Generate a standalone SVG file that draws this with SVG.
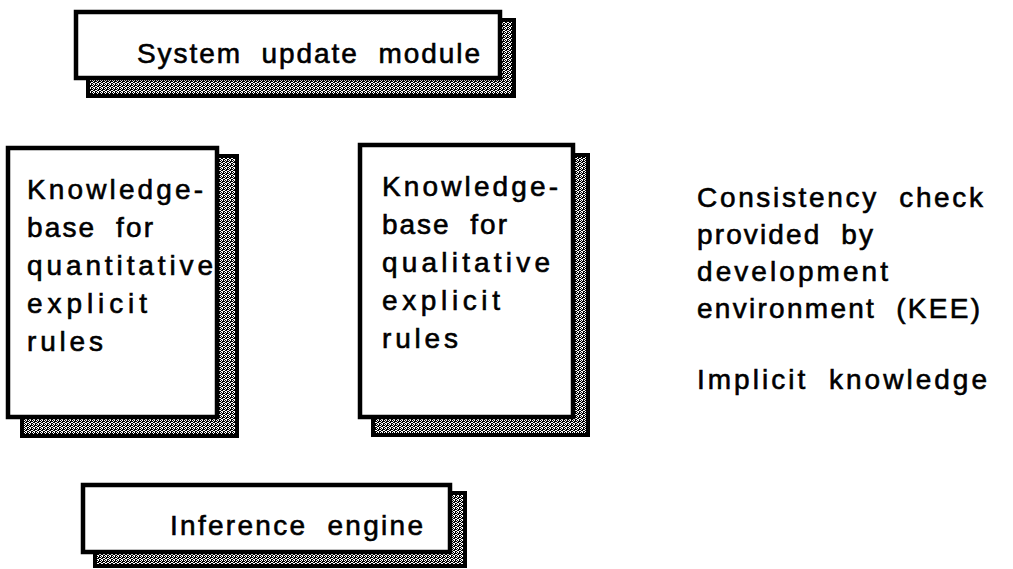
<svg xmlns="http://www.w3.org/2000/svg" width="1013" height="569" viewBox="0 0 1013 569">
  <defs>
    <!-- dithered grey used inside the drop shadows -->
    <pattern id="stipple" width="4" height="4" patternUnits="userSpaceOnUse">
      <rect width="4" height="4" fill="#000"/>
      <rect x="0" y="0" width="1" height="1" fill="#fff"/>
      <rect x="2" y="0" width="1" height="1" fill="#fff"/>
      <rect x="1" y="1" width="1" height="1" fill="#fff"/>
      <rect x="0" y="2" width="1" height="1" fill="#fff"/>
      <rect x="3" y="2" width="1" height="1" fill="#fff"/>
      <rect x="1" y="3" width="1" height="1" fill="#fff"/>
      <rect x="2" y="3" width="1" height="1" fill="#fff"/>
    </pattern>
    <style>
      .shadow { fill: url(#stipple); stroke: #000; stroke-width: 4; shape-rendering: crispEdges; }
      .box { fill: #fff; stroke: #000; stroke-width: 4.5; }
      .lbl { font-family: "Liberation Sans", Arial, sans-serif; font-size: 28px; word-spacing: 10px; fill: #000; stroke: #000; stroke-width: 0.6; }
    </style>
  </defs>
  <rect width="1013" height="569" fill="#fff"/>

  <g id="system-update-module">
    <rect class="shadow" x="88" y="20" width="426" height="76"/>
    <rect class="box" x="76" y="12" width="424" height="66"/>
    <text class="lbl" x="137" y="63" textLength="343" lengthAdjust="spacing">System update module</text>
  </g>

  <g id="kb-quantitative">
    <rect class="shadow" x="22" y="156" width="215" height="280"/>
    <rect class="box" x="8" y="148" width="209" height="269"/>
    <text class="lbl" x="27" y="199" textLength="176" lengthAdjust="spacing">Knowledge-</text>
    <text class="lbl" x="27" y="237" textLength="126" lengthAdjust="spacing">base for</text>
    <text class="lbl" x="27" y="275" textLength="186" lengthAdjust="spacing">quantitative</text>
    <text class="lbl" x="27" y="313" textLength="120" lengthAdjust="spacing">explicit</text>
    <text class="lbl" x="27" y="351" textLength="76" lengthAdjust="spacing">rules</text>
  </g>

  <g id="kb-qualitative">
    <rect class="shadow" x="373" y="155" width="215" height="280"/>
    <rect class="box" x="360" y="145" width="213" height="272"/>
    <text class="lbl" x="382" y="196" textLength="176" lengthAdjust="spacing">Knowledge-</text>
    <text class="lbl" x="382" y="234" textLength="125" lengthAdjust="spacing">base for</text>
    <text class="lbl" x="382" y="272" textLength="168" lengthAdjust="spacing">qualitative</text>
    <text class="lbl" x="382" y="310" textLength="118" lengthAdjust="spacing">explicit</text>
    <text class="lbl" x="382" y="348" textLength="76" lengthAdjust="spacing">rules</text>
  </g>

  <g id="inference-engine">
    <rect class="shadow" x="95" y="493" width="370" height="73"/>
    <rect class="box" x="83" y="485" width="367" height="67"/>
    <text class="lbl" x="170" y="535" textLength="253" lengthAdjust="spacing">Inference engine</text>
  </g>

  <g id="notes">
    <text class="lbl" x="697" y="207" textLength="286" lengthAdjust="spacing">Consistency check</text>
    <text class="lbl" x="697" y="244" textLength="176" lengthAdjust="spacing">provided by</text>
    <text class="lbl" x="697" y="281" textLength="191" lengthAdjust="spacing">development</text>
    <text class="lbl" x="697" y="318" textLength="283" lengthAdjust="spacing">environment (KEE)</text>
    <text class="lbl" x="697" y="389" textLength="290" lengthAdjust="spacing">Implicit knowledge</text>
  </g>

  <g id="connectors"/>
</svg>
